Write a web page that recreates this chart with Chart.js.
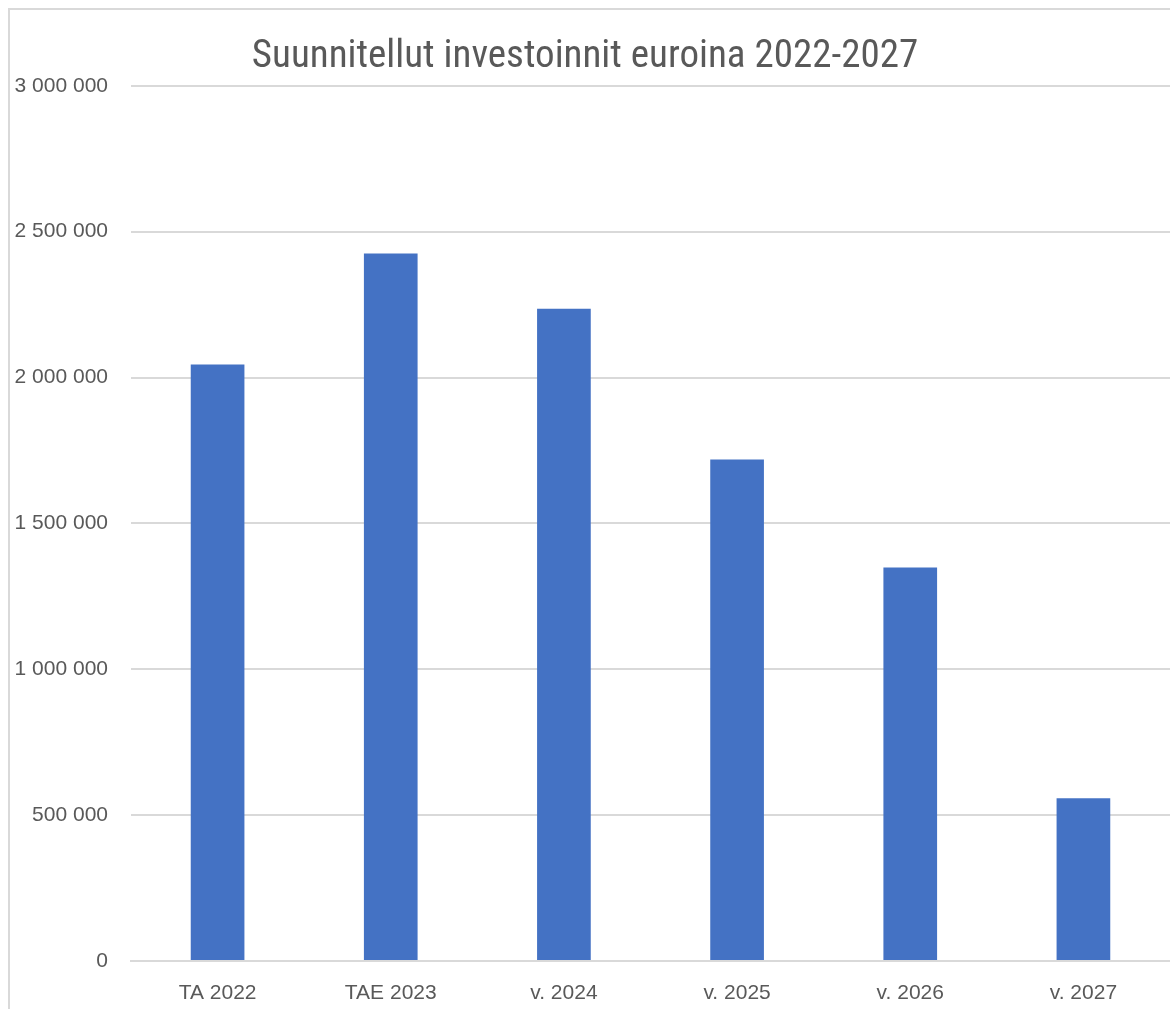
<!DOCTYPE html>
<html>
<head>
<meta charset="utf-8">
<script src="https://cdn.jsdelivr.net/npm/chart.js@4.4.1/dist/chart.umd.min.js"></script>
<style>
  html, body { margin: 0; padding: 0; background: #fff; }
  #wrap { position: relative; width: 1170px; height: 1009px; overflow: hidden; }
  #frame { position: absolute; left: 8px; top: 8px; width: 1200px; height: 1100px; border: 2px solid #d9d9d9; box-sizing: border-box; }
  canvas { position: absolute; left: 0; top: 0; }
</style>
</head>
<body>
<div id="wrap">
  <div id="frame"></div>
  <canvas id="c" width="1170" height="1009"></canvas>
</div>
<script>
const categories = ["TA 2022", "TAE 2023", "v. 2024", "v. 2025", "v. 2026", "v. 2027"];
const investments = [2045000, 2425000, 2236000, 1719000, 1349000, 558000];
const titleText = "Suunnitellut investoinnit euroina 2022-2027";

function fmt(v) {
  return String(Math.round(v)).replace(/\B(?=(\d{3})+(?!\d))/g, " ");
}

const TEXT = "#595959";
const GRID = "#d9d9d9";

new Chart(document.getElementById("c"), {
  type: "bar",
  data: {
    labels: categories,
    datasets: [{
      data: investments,
      backgroundColor: "#4472C4",
      borderWidth: 0,
      barPercentage: 0.31,
      categoryPercentage: 1.0
    }]
  },
  options: {
    responsive: false,
    animation: false,
    layout: { padding: { top: 10, left: 0, right: 0, bottom: 0 } },
    plugins: {
      legend: { display: false },
      tooltip: { enabled: false },
      title: {
        display: true,
        text: titleText,
        color: TEXT,
        font: { family: "'Liberation Sans Narrow', 'Roboto Condensed', 'Liberation Sans', sans-serif", size: 39, weight: "normal" },
        padding: { top: 24, bottom: 5 }
      }
    },
    scales: {
      x: {
        grid: { display: false, drawTicks: false },
        border: { display: true, color: GRID, width: 2 },
        ticks: {
          color: TEXT,
          font: { family: "'Liberation Sans', sans-serif", size: 21 },
          padding: 20,
          maxRotation: 0
        },
        afterFit: (s) => { s.height = 48; }
      },
      y: {
        min: 0,
        max: 3000000,
        grid: { color: GRID, lineWidth: 2, drawTicks: false },
        border: { display: false },
        ticks: {
          stepSize: 500000,
          color: TEXT,
          font: { family: "'Liberation Sans', sans-serif", size: 21 },
          padding: 23,
          callback: (v) => fmt(v)
        },
        afterFit: (s) => { s.width = 131; }
      }
    }
  }
});
</script>
</body>
</html>
